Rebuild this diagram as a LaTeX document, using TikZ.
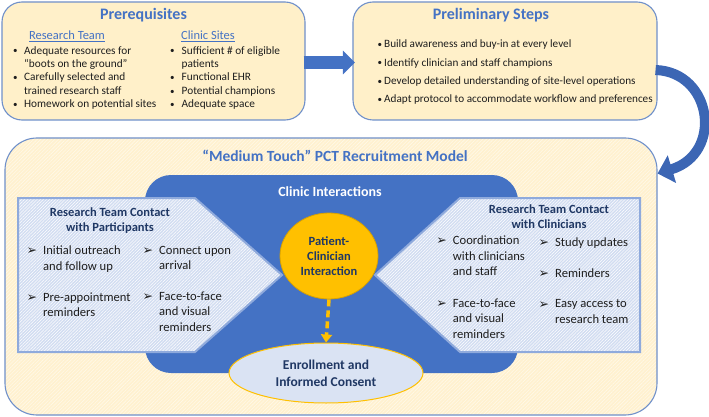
\documentclass[tikz,border=0pt]{standalone}
\usepackage{fontspec}
\setmainfont{Carlito}
\newfontfamily\dejavu{DejaVu Sans}
\usetikzlibrary{arrows.meta,patterns.meta,shapes.geometric}
\definecolor{accent}{HTML}{4472C4}
\definecolor{accentdk}{HTML}{3C66B4}
\definecolor{boxfill}{HTML}{FFF0C9}
\definecolor{modelfill}{HTML}{FFF1CF}
\definecolor{modelhatch}{HTML}{FFF9E8}
\definecolor{boxline}{HTML}{6F90CA}
\definecolor{pentfill}{HTML}{D2DDF1}
\definecolor{pentline}{HTML}{8FAADC}
\definecolor{gold}{HTML}{FFC000}
\definecolor{golddk}{HTML}{D9A200}
\definecolor{ellfill}{HTML}{DAE3F3}
\definecolor{navy}{HTML}{203864}
\definecolor{bodytext}{HTML}{1E1E1E}
\newcommand\bulw[1]{\makebox[#1][l]{\fontsize{9}{9}\selectfont\raisebox{0.3pt}{\textbullet}}}
\newcommand\arr{\makebox[16.5pt][l]{\dejavu\fontsize{12.5}{12.5}\selectfont\raisebox{-0.3pt}{➢}}}
\newcommand\ind{\hspace*{16.5pt}}
\begin{document}
\begin{tikzpicture}[x=1pt,y=-1pt,
  box/.style={draw=boxline, line width=1.1pt, fill=boxfill, rounded corners=20pt, inner sep=0},
  title/.style={font=\bfseries\fontsize{16}{19}\selectfont, text=accent, anchor=base, inner sep=0},
  subhead/.style={font=\fontsize{12.5}{15}\selectfont, text=accent, anchor=base, inner sep=0},
  lst/.style={font=\fontsize{11.3}{13.35}\selectfont, text=bodytext, anchor=base west, inner sep=0},
  plst/.style={font=\fontsize{11.2}{18.33}\selectfont, text=bodytext, anchor=base west, inner sep=0},
  itm/.style={font=\fontsize{12.6}{15.5}\selectfont, text=bodytext, anchor=base west, inner sep=0},
  ptitle/.style={font=\bfseries\fontsize{12.5}{15}\selectfont, text=navy, anchor=base, inner sep=0},
  pent/.style={preaction={fill=pentfill}, pattern={Lines[angle=45,distance=2.2pt,line width=0.5pt]}, pattern color=white,
    draw=pentline, line width=2pt, line join=miter}
]
\useasboundingbox (0,0) rectangle (709,417);

% top boxes
\node[box, minimum width=303pt, minimum height=118pt] (pre) at (153.5,61) {};
\node[box, minimum width=304pt, minimum height=118pt] (prel) at (505,61) {};

\node[title] (pretitle) at (143.5,20) {Prerequisites};
\node[subhead] (rteam) at (67,39.5) {\underline{Research Team}};
\node[subhead] (csites) at (208,39.5) {\underline{Clinic Sites}};
\node[lst] (rtlist) at (13,54.3) {\begin{tabular}[t]{@{}l@{}}
\bulw{11pt}Adequate resources for\\
\hspace*{11pt}“boots on the ground”\\
\bulw{11pt}Carefully selected and\\
\hspace*{11pt}trained research staff\\
\bulw{11pt}Homework on potential sites
\end{tabular}};
\node[lst] (cslist) at (170,54.3) {\begin{tabular}[t]{@{}l@{}}
\bulw{11.5pt}Sufficient \# of eligible\\
\hspace*{11.5pt}patients\\
\bulw{11.5pt}Functional EHR\\
\bulw{11.5pt}Potential champions\\
\bulw{11.5pt}Adequate space
\end{tabular}};

\node[title] (preltitle) at (491,20) {Preliminary Steps};
\node[plst] (prellist) at (377.5,47.8) {\begin{tabular}[t]{@{}l@{}}
\bulw{6.5pt}Build awareness and buy-in at every level\\
\bulw{6.5pt}Identify clinician and staff champions\\
\bulw{6.5pt}Develop detailed understanding of site-level operations\\
\bulw{6.5pt}Adapt protocol to accommodate workflow and preferences
\end{tabular}};

% arrow between top boxes
\draw[accent, line width=13pt, -{Triangle[length=12pt,width=23pt]}, shorten >=-2.5pt]
  ([xshift=-2pt,yshift=-1.5pt]pre.east) -- ([yshift=-1.5pt]prel.west);

% model box
\node[preaction={fill=modelfill}, pattern={Lines[angle=45,distance=2.5pt,line width=0.6pt]}, pattern color=modelhatch,
  draw=boxline, line width=1.1pt, rounded corners=32pt,
  minimum width=652pt, minimum height=277pt, inner sep=0] (model) at (331,276.5) {};
\node[title, font=\bfseries\fontsize{15.5}{18}\selectfont] (mtitle) at (335,161.5) {“Medium Touch” PCT Recruitment Model};

% curved arrow
\draw[accentdk, line width=10pt, -{Triangle[length=15pt,width=28pt]}]
  ([xshift=-2pt,yshift=-9pt]prel.east) .. controls +(57,2) and +(66,-20) .. ([yshift=103pt]model.east);

% clinic interactions
\node[fill=accent, rounded corners=26pt, minimum width=373pt, minimum height=198pt, inner sep=0] (clinic) at (331.5,274) {};
\node[font=\bfseries\fontsize{14}{17}\selectfont, text=white, anchor=base, inner sep=0] (ctitle) at (330,196.5) {Clinic Interactions};

% left pentagon
\draw[pent] (18,198) coordinate (lp1) -- (195,198) -- (282,275) coordinate (lptip) -- (195,352) -- (18,352) -- cycle;
\node[ptitle] (lptitle) at (110,216) {\begin{tabular}[t]{@{}c@{}}Research Team Contact\\with Participants\end{tabular}};
\node[itm] (l1) at (26.5,254.6) {\begin{tabular}[t]{@{}l@{}}\arr Initial outreach\\\ind and follow up\end{tabular}};
\node[itm] (l2) at (26.5,301.2) {\begin{tabular}[t]{@{}l@{}}\arr Pre-appointment\\\ind reminders\end{tabular}};
\node[itm] (l3) at (142.5,254) {\begin{tabular}[t]{@{}l@{}}\arr Connect upon\\\ind arrival\end{tabular}};
\node[itm] (l4) at (142.5,300.3) {\begin{tabular}[t]{@{}l@{}}\arr Face-to-face\\\ind and visual\\\ind reminders\end{tabular}};

% right pentagon
\draw[pent] (640,198) coordinate (rp1) -- (460,198) -- (375,275) coordinate (rptip) -- (460,352) -- (640,352) -- cycle;
\node[ptitle] (rptitle) at (549,213.5) {\begin{tabular}[t]{@{}c@{}}Research Team Contact\\with Clinicians\end{tabular}};
\node[itm] (r1) at (436.2,244.6) {\begin{tabular}[t]{@{}l@{}}\arr Coordination\\\ind with clinicians\\\ind and staff\end{tabular}};
\node[itm] (r2) at (436.2,307) {\begin{tabular}[t]{@{}l@{}}\arr Face-to-face\\\ind and visual\\\ind reminders\end{tabular}};
\node[itm] (r3) at (538.5,246.2) {\begin{tabular}[t]{@{}l@{}}\arr Study updates\end{tabular}};
\node[itm] (r4) at (538.5,277.2) {\begin{tabular}[t]{@{}l@{}}\arr Reminders\end{tabular}};
\node[itm] (r5) at (538.5,307.9) {\begin{tabular}[t]{@{}l@{}}\arr Easy access to\\\ind research team\end{tabular}};

% circle and ellipse
\node[ellipse, fill=gold, draw=golddk, line width=0.8pt, minimum width=98pt, minimum height=86pt, inner sep=0,
  align=center, font=\bfseries\fontsize{12.5}{15}\selectfont, text=navy] (pci) at (329,256) {Patient-\\Clinician\\Interaction};
\node[ellipse, fill=ellfill, draw=gold, line width=1pt, minimum width=194pt, minimum height=60pt, inner sep=0,
  align=center, font=\bfseries\fontsize{13.5}{17}\selectfont, text=navy] (enr) at (326,373) {Enrollment and\\Informed Consent};
\draw[gold, line width=3.5pt, dash pattern=on 7pt off 4pt, -{Triangle[length=8pt,width=11pt]}] (pci.south) -- (enr.north);
\end{tikzpicture}
\end{document}
